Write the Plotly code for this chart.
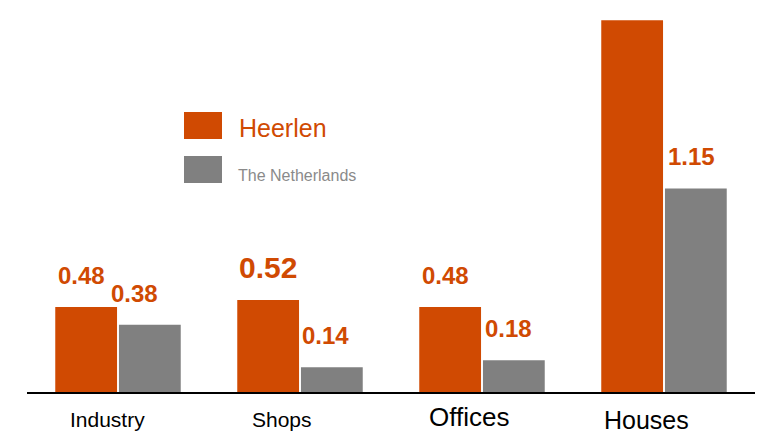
import plotly.graph_objects as go

# Floor space ratios per sector
categories = ["Industry", "Shops", "Offices", "Houses"]
heerlen = [0.48, 0.52, 0.48, 2.10]
netherlands = [0.38, 0.14, 0.18, 1.15]
# Value labels shown above the bars (None = no label)
heerlen_labels = ["0.48", "0.52", "0.48", None]
netherlands_labels = ["0.38", "0.14", "0.18", "1.15"]

ORANGE = "#D04A02"
GREY = "#808080"
FONT = "Liberation Sans, Arial, sans-serif"

fig = go.Figure()
fig.add_trace(go.Bar(x=list(range(len(categories))), y=heerlen, name="Heerlen",
                     marker=dict(color=ORANGE, line=dict(width=0))))
fig.add_trace(go.Bar(x=list(range(len(categories))), y=netherlands, name="The Netherlands",
                     marker=dict(color=GREY, line=dict(width=0))))

annotations = []
# value labels: size and horizontal nudge per bar
h_sizes = [24, 30, 24, 24]
h_nudge = [-5, 0, -5, -5]
n_sizes = [24, 24, 24, 24]
n_nudge = [-15, -6, -5, -4]
half = 0.175
for i in range(len(categories)):
    if heerlen_labels[i]:
        annotations.append(dict(x=i - half, y=heerlen[i], xref="x", yref="y",
                                text=f"<b>{heerlen_labels[i]}</b>", showarrow=False,
                                yanchor="bottom", xanchor="center", yshift=14 if h_sizes[i] == 30 else 16,
                                xshift=h_nudge[i],
                                font=dict(family=FONT, size=h_sizes[i], color=ORANGE)))
    if netherlands_labels[i]:
        annotations.append(dict(x=i + half, y=netherlands[i], xref="x", yref="y",
                                text=f"<b>{netherlands_labels[i]}</b>", showarrow=False,
                                yanchor="bottom", xanchor="center", yshift=16,
                                xshift=n_nudge[i],
                                font=dict(family=FONT, size=n_sizes[i], color=ORANGE)))

# category labels under the axis
cat_sizes = [21, 21, 26, 25]
cat_nudge = [-11, -18, -13, -18]
cat_drop = [14, 14, 8, 12]
for i, c in enumerate(categories):
    annotations.append(dict(x=i, y=0, xref="x", yref="paper", text=c, showarrow=False,
                            yanchor="top", xanchor="center", xshift=cat_nudge[i], yshift=-cat_drop[i],
                            font=dict(family=FONT, size=cat_sizes[i], color="#000000")))

# legend
annotations.append(dict(x=237, y=437 - 128, xref="paper", yref="paper", text="Heerlen",
                        showarrow=False, xanchor="left", yanchor="middle",
                        font=dict(family=FONT, size=25, color=ORANGE)))
annotations.append(dict(x=236, y=437 - 175, xref="paper", yref="paper", text="The Netherlands",
                        showarrow=False, xanchor="left", yanchor="middle",
                        font=dict(family=FONT, size=16, color="#8a8a8a")))

W, H = 761, 437
ML, MR, MT, MB = 27, 6, 0, 45
pw, ph = W - ML - MR, H - MT - MB


def px(xp, yp):
    return (xp - ML) / pw, (H - MB - yp) / ph


for a in annotations:
    if a["xref"] == "paper":
        a["x"], a["y"] = px(a["x"], H - a["y"])

shapes = []
for (x0, y0, x1, y1, col) in [(184, 112, 222, 139, ORANGE), (184, 156, 222, 183, GREY)]:
    ax0, ay0 = px(x0, y1)
    ax1, ay1 = px(x1, y0)
    shapes.append(dict(type="rect", xref="paper", yref="paper", x0=ax0, x1=ax1, y0=ay0, y1=ay1,
                       fillcolor=col, line=dict(width=0)))

fig.update_layout(
    width=W, height=H,
    margin=dict(l=ML, r=MR, t=MT, b=MB),
    paper_bgcolor="white", plot_bgcolor="white",
    barmode="group", bargap=0.30, bargroupgap=0.03,
    showlegend=False,
    annotations=annotations, shapes=shapes,
    xaxis=dict(range=[-0.5, 3.5], showticklabels=False, ticks="", showgrid=False,
               zeroline=False, showline=True, linecolor="#000000", linewidth=2),
    yaxis=dict(range=[0, 392 / 177], visible=False, showgrid=False, zeroline=False),
)

fig.write_html("out.html")
